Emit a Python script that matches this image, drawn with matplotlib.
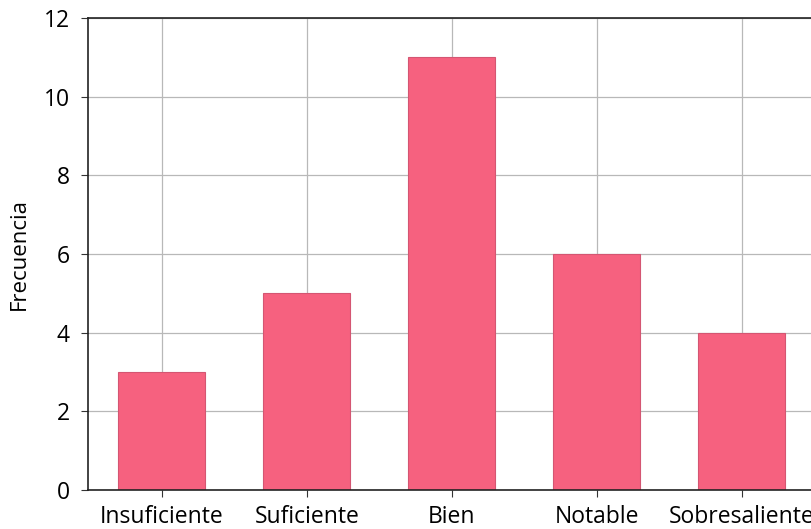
import numpy as np
import matplotlib
matplotlib.use('Agg')
from matplotlib import pyplot as plt

plt.rcParams['font.family'] = ['Open Sans', 'DejaVu Sans']

categorias = ['Insuficiente', 'Suficiente', 'Bien', 'Notable', 'Sobresaliente']
frecuencia = [3, 5, 11, 6, 4]

fig = plt.figure(figsize=(8.12, 5.29), dpi=100)
# axes run a bit past the right edge, the reference is cut there
ax = fig.add_axes([88/812, 39/529, 726/812, 472/529])
x = np.arange(len(categorias))
ax.bar(x, frecuencia, width=0.6, color='#f6617f', edgecolor='#d45672', linewidth=0.8, zorder=2)
ax.set_axisbelow(True)
ax.grid(True, color='#b8b8b8', linewidth=0.9)
ax.set_xlim(-0.51, 4.5)
ax.set_ylim(0, 12)
ax.set_yticks([0, 2, 4, 6, 8, 10, 12])
ax.set_xticks(x)
ax.set_xticklabels(categorias)
ax.set_ylabel('Frecuencia', fontsize=16, labelpad=10)
ax.tick_params(labelsize=16.5, length=5, color='#333333')
ax.tick_params(axis='y', pad=8)
ax.tick_params(axis='x', pad=6)
for s in ax.spines.values():
    s.set_color('#222222')
    s.set_linewidth(1.2)
ax.spines['right'].set_visible(False)
fig.savefig('out.png', dpi=100)
